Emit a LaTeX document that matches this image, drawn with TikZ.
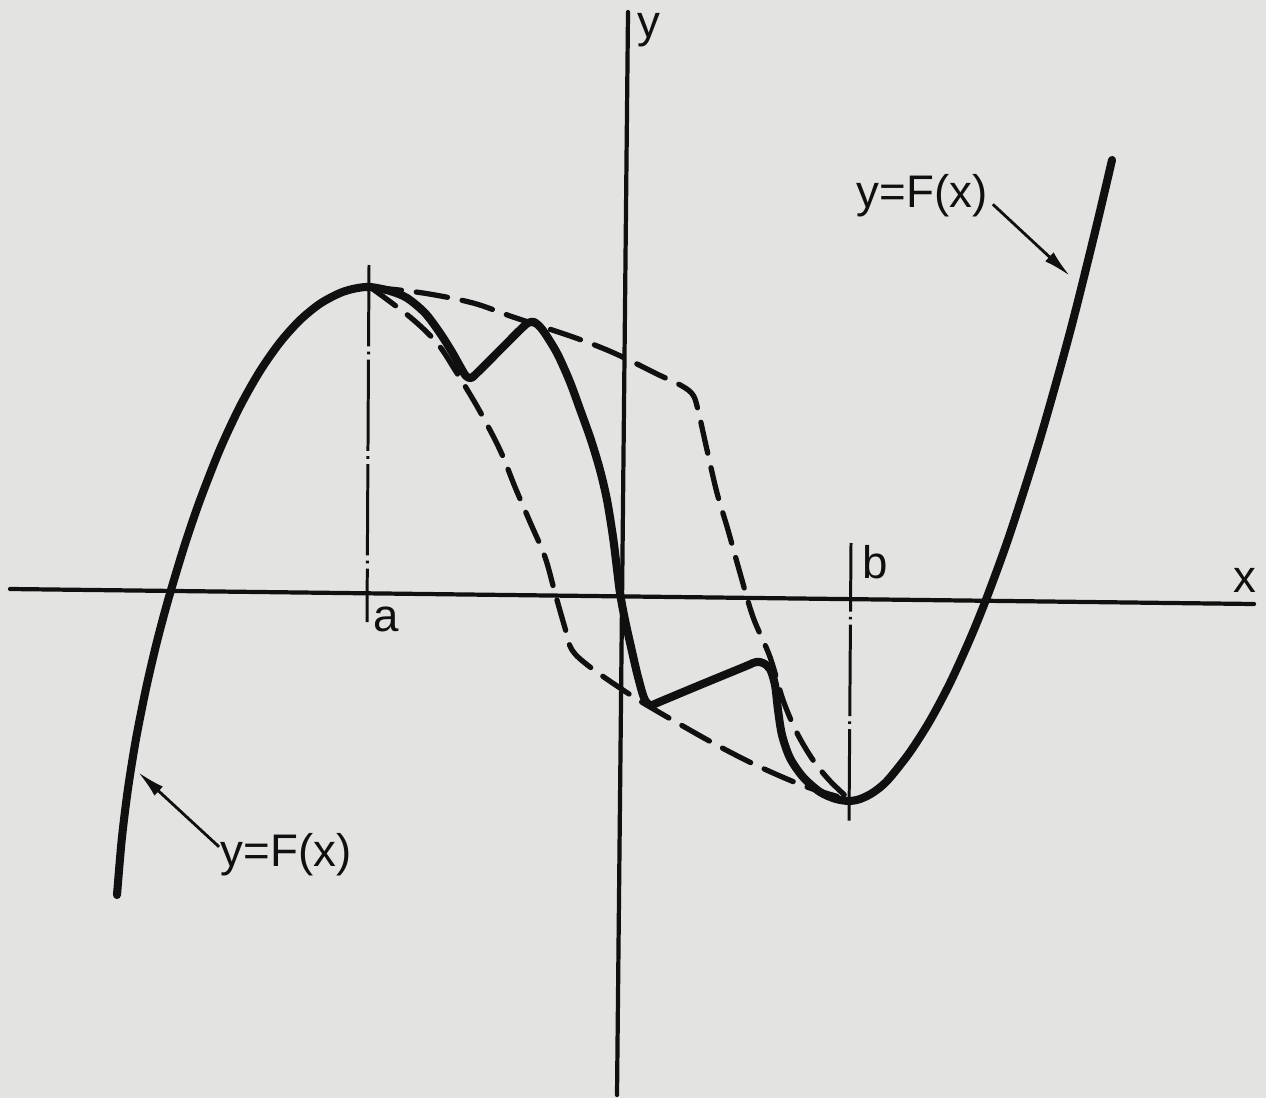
\documentclass[tikz,border=0pt]{standalone}
\usepackage{fontspec}
\setmainfont{Liberation Sans}
\usetikzlibrary{arrows.meta}
\definecolor{paper}{RGB}{227,227,225}
\definecolor{ink}{RGB}{16,16,16}
\begin{document}
\begin{tikzpicture}[x=0.02cm,y=-0.02cm,
  axis/.style={line width=2.4pt, draw=ink, line cap=round},
  curve/.style={line width=4.6pt, draw=ink, line join=round, line cap=round},
  env/.style={line width=3pt, draw=ink, line cap=round, dash pattern=on 18pt off 8.5pt},
  bline/.style={line width=1.7pt, draw=ink, dash pattern=on 52pt off 3pt on 1.5pt off 3pt},
  lbl/.style={font=\fontsize{26}{28}\selectfont, text=ink, inner sep=0pt},
  pointer/.style={line width=1.6pt, draw=ink, -{Latex[length=16pt,width=7pt]}}
]
\fill[paper] (0,0) rectangle (1266,1098);
\useasboundingbox (0,0) rectangle (1266,1098);

% axes
\coordinate (xl) at (10,589);
\coordinate (xr) at (1254,604);
\coordinate (yt) at (628,12);
\coordinate (yb) at (617,1095);
\draw[axis] (xl) -- (xr);
\draw[axis] (yt) -- (yb);

% a and b markers
\coordinate (aT) at (369,265);
\coordinate (aB) at (367,622);
\coordinate (bT) at (851,543);
\coordinate (bB) at (849,823);
\draw[bline, dash phase=5.7pt] (aT) -- (aB);
\draw[bline, dash phase=13pt] (bT) -- (bB);

% labels
\node[lbl] (ylab) at (649,30) {y};
\node[lbl] (xlab) at (1245,580) {x};
\node[lbl] (alab) at (386,619) {a};
\node[lbl] (blab) at (875,562) {b};
\node[lbl] (fR) at (922,196) {y=F(x)};
\node[lbl] (fL) at (286,855) {y=F(x)};

% envelopes (dashed)
\draw[env] plot[smooth, tension=0.55] coordinates {(370,287) (410,317) (437,343) (455,370) (478,408) (500,450) (515,487) (530,522) (545,557) (555,593) (565,628) (572,650) (590,667) (623,690) (650,707) (713,743) (760,767) (807,787) (850,800)};
\draw[env] plot[smooth, tension=0.55] coordinates {(370,287) (423,293) (473,303) (513,317) (573,337) (607,350) (633,362) (657,374) (682,386) (693,395) (698,410) (707,450) (717,493) (728,530) (740,573) (753,617) (770,657) (783,700) (797,733) (813,760) (830,781) (850,800)};

% main curve
\draw[curve] plot[smooth, tension=0.5] coordinates {
  (117,895) (121.7,840) (127.8,790) (135.8,740) (145.7,690) (154.9,650) (162.6,620) (171,590)
  (185,544) (200,500.2) (220,449.2) (240,406.4) (260,371) (280,342.4) (300,320.1) (320,303.7)
  (340,293) (355,288.5) (370,287)
  (390,291) (407,298) (425,313) (440,333) (452,352) (461,368) (466,376) (471,378) (477,373)
  (500,350) (522,328) (528,323) (534,322) (541,328) (548,338) (558,355) (570,382) (581,412)
  (591,440) (600,470) (607,500) (613,537) (616.5,565) (620,593) (625,620) (631,647) (637,673)
  (643,695) (647,703) (652,705) (660,701.7) (700,685) (745,666.5) (756,662) (763,663) (770,669)
  (775,685) (778,710) (782,735) (790,758) (803,777) (820,792) (836,799) (850,801)
  (860,799) (870,794.4) (880,787.4) (890,777.6) (910,752) (930,720.6) (950,683) (970,639)
  (987,597) (1010,533.6) (1040,439) (1070,332) (1095,232) (1112,160)};

% pointers
\coordinate (pR) at (1070,276);
\coordinate (pL) at (138,772);
\draw[pointer, shorten <=4pt] ([yshift=-2pt]fR.east) -- (pR);
\draw[pointer, shorten <=1pt] ([yshift=4pt]fL.west) -- (pL);
\end{tikzpicture}
\end{document}
